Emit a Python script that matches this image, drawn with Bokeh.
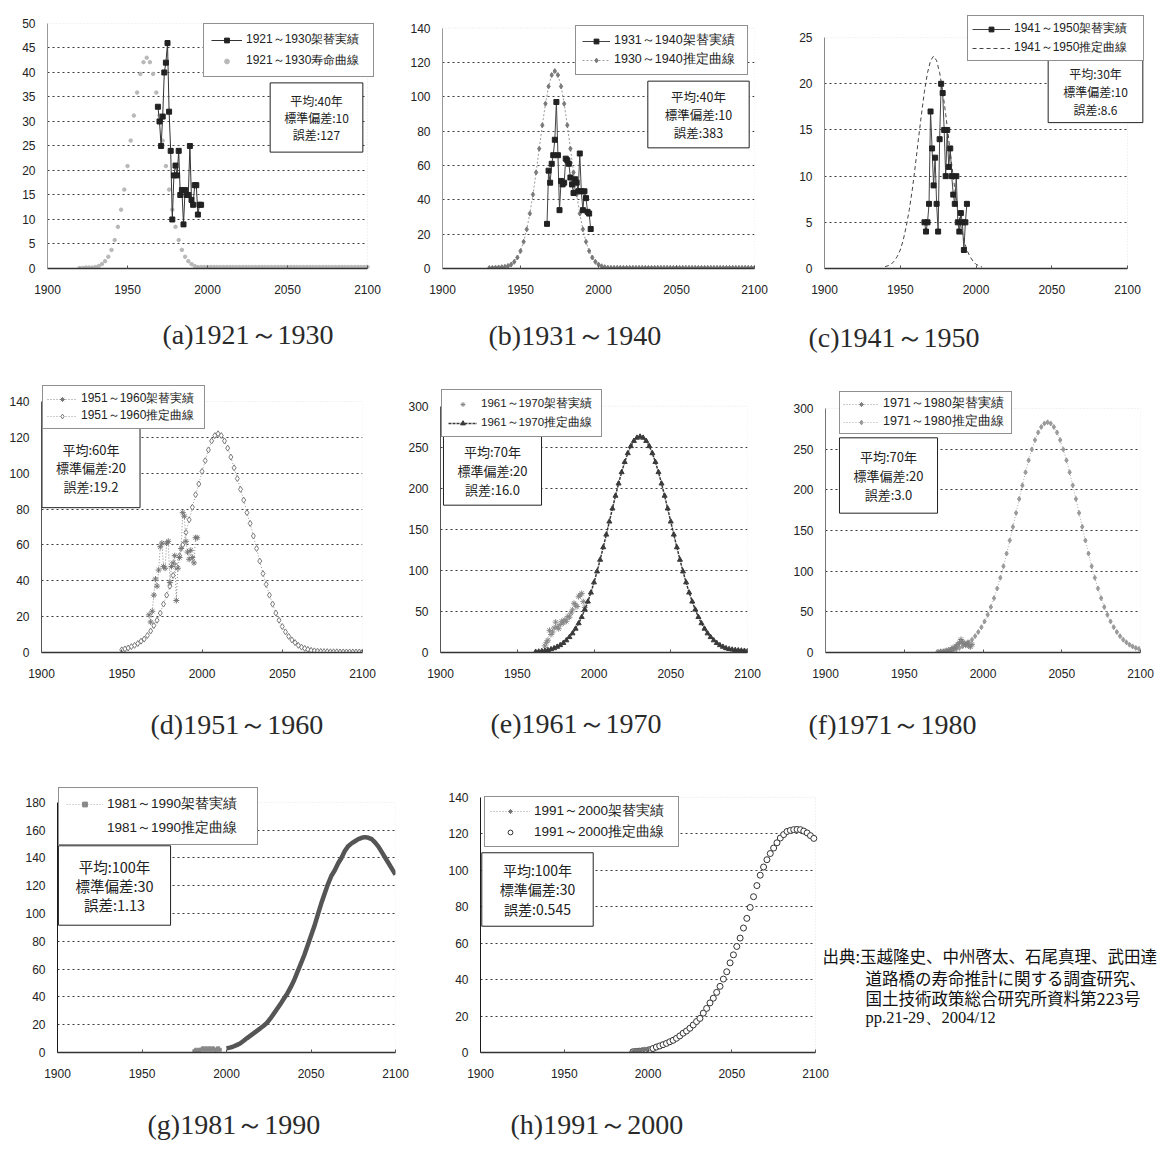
from bokeh.plotting import figure
from bokeh.models import Range1d, FixedTicker, Legend, LegendItem, Label, Title, BoxAnnotation
from bokeh.layouts import row, column
from bokeh.embed import file_html
from bokeh.resources import INLINE

X_TICKS = [1900, 1950, 2000, 2050, 2100]

# ---------------- (a) 1921-1930 ----------------
A_LABELS = ["1921～1930架替実績", "1921～1930寿命曲線"]
A_INFO = "平均:40年\n標準偏差:10\n誤差:127"
A_CAPTION = "(a)1921～1930"
A_YTICKS = [0, 5, 10, 15, 20, 25, 30, 35, 40, 45, 50]
A_ACT_START = 1969
A_ACT = [33, 30, 25, 31, 40, 42, 46, 32, 24, 10, 19, 21, 19, 24, 15, 16, 9, 16,
         15, 15, 25, 14, 13, 17, 17, 11, 13, 13]
A_CURVE_START = 1920
A_CURVE = [0.1, 0.1, 0.2, 0.2, 0.2, 0.3, 0.5, 0.9, 1.5, 2.4, 3.8, 5.8, 8.5,
           12.0, 16.1, 20.9, 26.1, 31.2, 35.9, 39.7, 42.1, 43.0, 42.1, 39.7, 35.9, 31.2,
           26.1, 20.9, 16.1, 12.0, 8.5, 5.8, 3.8, 2.4, 1.5, 0.9, 0.5, 0.3, 0.3,
           0.3, 0.3, 0.3, 0.3, 0.3, 0.3, 0.3, 0.3, 0.3, 0.3, 0.3, 0.3, 0.3,
           0.3, 0.3, 0.3, 0.3, 0.3, 0.3, 0.3, 0.3, 0.3, 0.3, 0.3, 0.3, 0.3,
           0.3, 0.3, 0.3, 0.3, 0.3, 0.3, 0.3, 0.3, 0.3, 0.3, 0.3, 0.3, 0.3,
           0.3, 0.3, 0.3, 0.3, 0.3, 0.3, 0.3, 0.3, 0.3, 0.3, 0.3, 0.3, 0.3]

# ---------------- (b) 1931-1940 ----------------
B_LABELS = ["1931～1940架替実績", "1930～1940推定曲線"]
B_INFO = "平均:40年\n標準偏差:10\n誤差:383"
B_CAPTION = "(b)1931～1940"
B_YTICKS = [0, 20, 40, 60, 80, 100, 120, 140]
B_ACT_START = 1967
B_ACT = [26, 57, 50, 61, 66, 75, 97, 66, 34, 51, 49, 50, 64, 63, 61, 53, 49, 44,
         52, 50, 45, 67, 45, 34, 45, 41, 33, 32, 23]
B_CURVE_START = 1930
B_CURVE = [0.3, 0.4, 0.5, 0.6, 0.8, 1.0, 1.5, 2.3, 3.9, 6.4, 10.2, 15.6, 22.8,
           32.0, 43.1, 56.0, 69.8, 83.5, 96.0, 106.1, 112.7, 115.0, 112.7, 106.1, 96.0, 83.5,
           69.8, 56.0, 43.1, 32.0, 22.8, 15.6, 10.2, 6.4, 3.9, 2.3, 1.3, 0.8, 0.5,
           0.4, 0.4, 0.4, 0.4, 0.4, 0.4, 0.4, 0.4, 0.4, 0.4, 0.4, 0.4, 0.4,
           0.4, 0.4, 0.4, 0.4, 0.4, 0.4, 0.4, 0.4, 0.4, 0.4, 0.4, 0.4, 0.4,
           0.4, 0.4, 0.4, 0.4, 0.4, 0.4, 0.4, 0.4, 0.4, 0.4, 0.4, 0.4, 0.4,
           0.4, 0.4, 0.4, 0.4, 0.4, 0.4, 0.4, 0.4]

# ---------------- (c) 1941-1950 ----------------
C_LABELS = ["1941～1950架替実績", "1941～1950推定曲線"]
C_INFO = "平均:30年\n標準偏差:10\n誤差:8.6"
C_CAPTION = "(c)1941～1950"
C_YTICKS = [0, 5, 10, 15, 20, 25]
C_ACT_START = 1966
C_ACT = [5, 4, 5, 7, 17, 13, 9, 12, 7, 4, 14, 20, 19, 15, 10, 15, 11, 13, 10, 8,
         7, 10, 5, 4, 6, 5, 2, 5, 7]
C_CURVE_START = 1940
C_CURVE = [0.2, 0.3, 0.45, 0.8, 1.3, 2.0, 3.1, 4.6, 6.4, 8.6, 11.2, 14.0, 16.7,
           19.2, 21.2, 22.5, 23.0, 22.5, 21.2, 19.2, 16.7, 14.0, 11.2, 8.6, 6.4,
           4.6, 3.1, 2.0, 1.3, 0.8, 0.45, 0.3, 0.15]

# ---------------- (d) 1951-1960 ----------------
D_LABELS = ["1951～1960架替実績", "1951～1960推定曲線"]
D_INFO = "平均:60年\n標準偏差:20\n誤差:19.2"
D_CAPTION = "(d)1951～1960"
D_YTICKS = [0, 20, 40, 60, 80, 100, 120, 140]
D_ACT_START = 1967
D_ACT = [21, 17, 23, 32, 41, 37, 46, 59, 61, 48, 47, 61, 62, 39, 48, 50, 54, 29,
         47, 53, 58, 78, 76, 62, 56, 52, 57, 53, 50, 64, 64]
D_CURVE_START = 1950
D_CURVE = [1.5, 2, 2.5, 3.3, 4,
           5, 6.3, 7.5, 9.5, 12,
           15, 18, 22, 27, 32,
           37, 43, 48, 54, 60,
           67, 74, 81, 88, 94,
           101, 107, 113, 118, 121,
           122, 121, 118, 114, 109,
           103, 97, 91, 85, 78,
           72, 65, 58, 51, 44,
           38, 32, 27, 22, 18,
           14.5, 11.5, 9, 7, 5.5,
           4, 3, 2.3, 1.7, 1.2,
           0.9, 0.7, 0.6, 0.5, 0.5,
           0.4, 0.4, 0.4, 0.3, 0.3,
           0.3, 0.3, 0.3, 0.3, 0.3,
           0.3]

# ---------------- (e) 1961-1970 ----------------
E_LABELS = ["1961～1970架替実績", "1961～1970推定曲線"]
E_INFO = "平均:70年\n標準偏差:20\n誤差:16.0"
E_CAPTION = "(e)1961～1970"
E_YTICKS = [0, 50, 100, 150, 200, 250, 300]
E_ACT_START = 1968
E_ACT = [8, 12, 15, 27, 22, 25, 30, 37, 31, 29, 34, 38, 36, 40, 38, 44, 43, 48,
         52, 60, 58, 56, 68, 70, 72, 62, 55]
E_CURVE_START = 1962
E_CURVE = [0.8, 1.1, 1.6, 2.2, 2.9,
           3.9, 5.2, 6.9, 8.9, 11.5,
           14.8, 18.7, 23.3, 29.0, 35.6,
           43.2, 52.2, 62.0, 73.0, 85.4,
           98.7, 113.0, 128.2, 143.6, 159.5,
           175.4, 191.0, 205.9, 219.7, 232.1,
           242.8, 251.4, 257.8, 261.7, 263.0,
           261.7, 257.8, 251.4, 242.8, 232.1,
           219.7, 205.9, 191.0, 175.4, 159.5,
           143.6, 128.2, 113.0, 98.7, 85.4,
           73.0, 62.0, 52.2, 43.2, 35.6,
           29.0, 23.3, 18.7, 14.8, 11.5,
           8.9, 6.9, 5.2, 4.2, 3.5,
           3.0, 2.6, 2.3, 2.0, 1.8]

# ---------------- (f) 1971-1980 ----------------
F_LABELS = ["1971～1980架替実績", "1971～1980推定曲線"]
F_INFO = "平均:70年\n標準偏差:20\n誤差:3.0"
F_CAPTION = "(f)1971～1980"
F_YTICKS = [0, 50, 100, 150, 200, 250, 300]
F_ACT_START = 1972
F_ACT = [0, 1, 0, 1, 2, 1, 3, 2, 4, 6, 5, 8, 10, 12, 16, 13, 11, 9, 12, 8, 7, 10]
F_CURVE_START = 1971
F_CURVE = [0.6, 0.9, 1.2, 1.7, 2.3,
           3.1, 4.2, 5.6, 7.4, 9.6,
           12.5, 15.8, 20.1, 25.2, 31.1,
           38.2, 46.4, 56.0, 66.8, 78.7,
           91.9, 106.1, 121.7, 137.8, 154.5,
           171.6, 188.8, 205.5, 221.6, 236.3,
           249.7, 261.2, 270.5, 277.3, 281.6,
           283.0, 281.6, 277.3, 270.5, 261.2,
           249.7, 236.3, 221.6, 205.5, 188.8,
           171.6, 154.5, 137.8, 121.7, 106.1,
           91.9, 78.7, 66.8, 56.0, 46.4,
           38.2, 31.1, 25.2, 20.1, 15.8,
           12.5, 9.6, 7.4, 5.6, 4.5]

# ---------------- (g) 1981-1990 ----------------
G_LABELS = ["1981～1990架替実績", "1981～1990推定曲線"]
G_INFO = "平均:100年\n標準偏差:30\n誤差:1.13"
G_CAPTION = "(g)1981～1990"
G_YTICKS = [0, 20, 40, 60, 80, 100, 120, 140, 160, 180]
G_ACT_START = 1981
G_ACT = [1, 2, 1, 2, 2, 3, 2, 3, 2, 3, 2, 3, 2, 2, 3, 2]
G_CURVE_START = 2000
G_CURVE = [3, 3.5, 4.3, 5.3, 6.5,
           8.3, 10.2, 12, 13.8, 15.6,
           17.4, 19.3, 21.4, 24.5, 28,
           31.5, 35, 38.8, 42.5, 47,
           52, 58, 64, 70, 77,
           84, 91, 99, 107, 114,
           121, 127, 131, 136, 140,
           145, 148.5, 150.5, 152, 153.5,
           154.5, 155, 154.5, 153.5, 151,
           148, 144, 140, 136, 132,
           128]

# ---------------- (h) 1991-2000 ----------------
H_LABELS = ["1991～2000架替実績", "1991～2000推定曲線"]
H_INFO = "平均:100年\n標準偏差:30\n誤差:0.545"
H_CAPTION = "(h)1991～2000"
H_YTICKS = [0, 20, 40, 60, 80, 100, 120, 140]
H_ACT_START = 1991
H_ACT = [0.5, 1, 0.8, 1.2, 1, 1.5, 1.3, 1.8, 1.6, 2]
H_CURVE_START = 1991
H_CURVE = [0.4, 0.6, 0.7, 0.9, 1.0,
           1.5, 2.2, 3.0, 3.6, 4.3,
           5.0, 5.9, 6.7, 7.8, 9.1,
           10.6, 11.8, 13.3, 15.1, 17.0,
           18.7, 21.6, 24.2, 27.2, 29.8,
           33, 36.3, 40.3, 44.3, 49.2,
           53.6, 58.2, 62.8, 68.3, 73.6,
           79.6, 85.5, 91.6, 97.3, 101.8,
           105.8, 109.2, 112.2, 115.1, 117.7,
           119.6, 121.3, 121.9, 122.3, 122.4,
           122.3, 121.5, 120.5, 119, 117.5]

SOURCE_LINES = ["出典:玉越隆史、中州啓太、石尾真理、武田達",
                "道路橋の寿命推計に関する調査研究、",
                "国土技術政策総合研究所資料第223号",
                "pp.21-29、2004/12"]

CJK = "Noto Sans CJK JP"
CJK_EM = 1.448  # line box of Noto Sans CJK in em
LEG_FONT = "Liberation Sans"
LEG_SHIFT = 4   # legend anchor correction (px)


def yrs(start, vals, step=1):
    return [start + step * i for i in range(len(vals))]


def base(w, h, bl, br, bt, bb, ymax, yticks, ext_top, ext_right, yaxis_color, cap_gap):
    # plot-area size (1900..2100, 0..ymax); the frame may extend beyond it for boxes
    pw = w - bl - br
    ph = h - bt - bb
    x_hi = 2100 + 200.0 * ext_right / pw
    y_hi = ymax * (ph + ext_top) / ph
    p = figure(width=w, height=h, x_range=Range1d(1900, x_hi), y_range=Range1d(0, y_hi),
               output_backend="svg", toolbar_location=None, tools="",
               min_border_left=bl, min_border_right=br - ext_right,
               min_border_top=bt - ext_top, min_border_bottom=bb)
    p.title_location = None
    p.background_fill_color = "white"
    p.border_fill_color = "white"
    p.outline_line_color = None
    p.add_layout(BoxAnnotation(left=1900, right=2100, bottom=0, top=ymax, fill_color=None,
                               line_color="#a8a8a8", line_dash="1 2", line_width=1,
                               level="underlay"))
    p.xaxis.ticker = FixedTicker(ticks=X_TICKS)
    p.yaxis.ticker = FixedTicker(ticks=yticks)
    p.xaxis.bounds = (1900, 2100)
    p.yaxis.bounds = (0, ymax)
    p.xgrid.visible = False
    p.ygrid.ticker = FixedTicker(ticks=yticks[1:-1])
    p.ygrid.cross_bounds = (1900, 2100)
    p.ygrid.grid_line_color = "#3a3a3a"
    p.ygrid.grid_line_dash = "2 3"
    p.ygrid.grid_line_width = 1
    for ax in (p.xaxis[0], p.yaxis[0]):
        ax.major_label_text_font = "Liberation Sans"
        ax.major_label_text_font_size = "12px"
        ax.major_label_text_color = "#222222"
        ax.minor_tick_line_color = None
    p.xaxis.axis_line_color = "#333333"
    p.xaxis.axis_line_width = 1.3
    p.xaxis.major_tick_in = 3
    p.xaxis.major_tick_out = 0
    p.xaxis.major_tick_line_color = "#555555"
    p.xaxis.major_label_standoff = 16
    # blank spacer between the tick labels and the caption below
    p.xaxis.axis_label = " "
    p.xaxis.axis_label_text_font_size = "1px"
    p.xaxis.axis_label_standoff = int(cap_gap)
    p.yaxis.axis_line_color = yaxis_color
    p.yaxis.major_tick_line_color = None
    p.yaxis.major_label_standoff = 6
    return p


def add_legend(p, items, lx, ly, fs, pad, sp, gw, lw):
    leg = Legend(items=items, location=(lx, ly - LEG_SHIFT), orientation="vertical",
                 border_line_color="#222222", border_line_width=1,
                 background_fill_color="white", background_fill_alpha=1.0,
                 label_text_font=LEG_FONT, label_text_font_size=f"{fs}px",
                 label_text_color="#222222",
                 glyph_width=int(gw), glyph_height=12, label_height=12,
                 label_width=int(lw), spacing=int(sp), padding=int(pad), margin=0,
                 label_standoff=4)
    p.add_layout(leg)


def add_info(p, text, cx, cy, fs, spacing, px, py):
    p.add_layout(Label(x=cx, y=cy, x_units="screen", y_units="screen", text=text,
                       text_align="center", text_baseline="middle", text_font=CJK,
                       text_font_size=f"{fs}px", text_line_height=spacing / (fs * CJK_EM),
                       text_color="#222222",
                       border_line_color="#222222", border_line_width=1,
                       background_fill_color="white", background_fill_alpha=1.0,
                       padding=dict(x=px, y=py)))


def add_caption(p, text, offset):
    p.add_layout(Title(text=text, align="left", offset=offset, standoff=0,
                       text_font="Liberation Serif", text_font_size="28px",
                       text_font_style="normal", text_color="#2a2a2a"), "below")


# ---- (a)
pa = base(390, 381, 47, 23, 22, 113, 50, A_YTICKS, 15, 8, "#9a9a9a", 16)
ca = pa.scatter(yrs(A_CURVE_START, A_CURVE, 2), A_CURVE, marker="circle", size=3.5,
                fill_color="#b8b8b8", line_color="#b8b8b8")
la = pa.line(yrs(A_ACT_START, A_ACT), A_ACT, line_color="#333333", line_width=1)
sa = pa.scatter(yrs(A_ACT_START, A_ACT), A_ACT, marker="square", size=5,
                fill_color="#222222", line_color="#222222")
add_legend(pa, [LegendItem(label=A_LABELS[0], renderers=[la, sa]),
                LegendItem(label=A_LABELS[1], renderers=[ca])], 156, 195, 12, 7, 4, 31, 120)
add_info(pa, A_INFO, 269, 151, 12, 17.5, 14, 9)
add_caption(pa, A_CAPTION, 115)

# ---- (b)
pb = base(390, 381, 52, 26, 28, 109, 140, B_YTICKS, 20, 0, "#9a9a9a", 17)
lcb = pb.line(yrs(B_CURVE_START, B_CURVE, 2), B_CURVE, line_color="#9a9a9a", line_width=1,
              line_dash="2 2")
cb = pb.scatter(yrs(B_CURVE_START, B_CURVE, 2), B_CURVE, marker="diamond", size=5,
                fill_color="#7a7a7a", line_color="#7a7a7a")
lb = pb.line(yrs(B_ACT_START, B_ACT), B_ACT, line_color="#444444", line_width=1)
sb = pb.scatter(yrs(B_ACT_START, B_ACT), B_ACT, marker="square", size=5,
                fill_color="#222222", line_color="#222222")
add_legend(pb, [LegendItem(label=B_LABELS[0], renderers=[lb, sb]),
                LegendItem(label=B_LABELS[1], renderers=[lcb, cb])], 133, 197, 12.5, 6, 2, 28, 127)
add_info(pb, B_INFO, 256, 154, 12.5, 17, 17, 6)
add_caption(pb, B_CAPTION, 46)

# ---- (c)
pc = base(381, 381, 44, 34, 35, 108, 25, C_YTICKS, 30, 18, "#8a8a8a", 19)
lcc = pc.line(yrs(C_CURVE_START, C_CURVE, 2), C_CURVE, line_color="#444444", line_width=1,
              line_dash="4 3")
lc = pc.line(yrs(C_ACT_START, C_ACT), C_ACT, line_color="#444444", line_width=1)
sc = pc.scatter(yrs(C_ACT_START, C_ACT), C_ACT, marker="square", size=5,
                fill_color="#222222", line_color="#222222")
add_legend(pc, [LegendItem(label=C_LABELS[0], renderers=[lc, sc]),
                LegendItem(label=C_LABELS[1], renderers=[lcc])], 143, 211, 12, 4, 2, 38, 125)
add_info(pc, C_INFO, 271, 177, 12, 18, 15, 5)
add_caption(pc, C_CAPTION, -16)

# ---- (d)
pd_ = base(390, 379, 41, 28, 20, 108, 140, D_YTICKS, 20, 0, "#555555", 22)
lcd = pd_.line(yrs(D_CURVE_START, D_CURVE, 2), D_CURVE, line_color="#9a9a9a", line_width=1,
               line_dash="1 2")
cd = pd_.scatter(yrs(D_CURVE_START, D_CURVE, 2), D_CURVE, marker="diamond", size=6,
                 fill_color="white", line_color="#7a7a7a")
ld = pd_.line(yrs(D_ACT_START, D_ACT), D_ACT, line_color="#8a8a8a", line_width=1, line_dash="1 2")
sd = pd_.scatter(yrs(D_ACT_START, D_ACT), D_ACT, marker="asterisk", size=6,
                 line_color="#777777")
add_legend(pd_, [LegendItem(label=D_LABELS[0], renderers=[ld, sd]),
                 LegendItem(label=D_LABELS[1], renderers=[lcd, cd])], 1, 227, 12, 4, 0, 30, 119)
add_info(pd_, D_INFO, 49.5, 184.5, 13, 18, 14, 12)
add_caption(pd_, D_CAPTION, 109)

# ---- (e)
pe = base(390, 379, 50, 33, 25, 106, 300, E_YTICKS, 25, 0, "#555555", 21)
se = pe.scatter(yrs(E_ACT_START, E_ACT), E_ACT, marker="asterisk", size=6, line_color="#888888")
lce = pe.line(yrs(E_CURVE_START, E_CURVE, 2), E_CURVE, line_color="#3a3a3a", line_width=1.5,
              line_dash="3 1")
ce = pe.scatter(yrs(E_CURVE_START, E_CURVE, 2), E_CURVE, marker="triangle", size=5,
                fill_color="#3a3a3a", line_color="#3a3a3a")
add_legend(pe, [LegendItem(label=E_LABELS[0], renderers=[se]),
                LegendItem(label=E_LABELS[1], renderers=[lce, ce])], 1, 219, 11.5, 6, 4, 29, 114)
add_info(pe, E_INFO, 52, 182, 13, 19, 14, 6)
add_caption(pe, E_CAPTION, 50)

# ---- (f)
pf = base(381, 379, 45, 21, 27, 108, 300, F_YTICKS, 27, 0, "#777777", 22)
lcf = pf.line(yrs(F_CURVE_START, F_CURVE, 2), F_CURVE, line_color="#aaaaaa", line_width=1,
              line_dash="1 2")
cf = pf.scatter(yrs(F_CURVE_START, F_CURVE, 2), F_CURVE, marker="diamond", size=5,
                fill_color="#9a9a9a", line_color="#9a9a9a")
lf = pf.line(yrs(F_ACT_START, F_ACT), F_ACT, line_color="#999999", line_width=1, line_dash="1 2")
sf = pf.scatter(yrs(F_ACT_START, F_ACT), F_ACT, marker="asterisk", size=6, line_color="#808080")
add_legend(pf, [LegendItem(label=F_LABELS[0], renderers=[lf, sf]),
                LegendItem(label=F_LABELS[1], renderers=[lcf, cf])], 14, 222, 12.5, 3, 1, 36, 125)
add_info(pf, F_INFO, 63, 177, 13, 19, 14, 9)
add_caption(pf, F_CAPTION, -17)

# ---- (g)
pg = base(420, 398, 57, 25, 42, 105, 180, G_YTICKS, 35, 0, "#1a1a1a", 22)
lcg = pg.line(yrs(G_CURVE_START, G_CURVE, 2), G_CURVE, line_color="#555555", line_width=4.5)
leg_g = pg.line([], [], line_color="#dddddd", line_width=1)
lg = pg.line(yrs(G_ACT_START, G_ACT), G_ACT, line_color="#aaaaaa", line_width=1, line_dash="1 2")
sg = pg.scatter(yrs(G_ACT_START, G_ACT), G_ACT, marker="square", size=3,
                fill_color="#888888", line_color="#888888")
add_legend(pg, [LegendItem(label=G_LABELS[0], renderers=[lg, sg]),
                LegendItem(label=G_LABELS[1], renderers=[leg_g])], 1, 211, 13.5, 7, 6, 37, 143)
add_info(pg, G_INFO, 57, 167, 14.5, 19.2, 17, 10)
add_caption(pg, G_CAPTION, 90)

# ---- (h)
ph = base(741, 398, 60, 346, 36, 106, 140, H_YTICKS, 30, 346, "#1a1a1a", 22)
ch = ph.scatter(yrs(H_CURVE_START, H_CURVE, 2), H_CURVE, marker="circle", size=6,
                fill_color="white", line_color="#333333", line_width=1)
lh_ = ph.line(yrs(H_ACT_START, H_ACT), H_ACT, line_color="#999999", line_width=1, line_dash="1 2")
sh = ph.scatter(yrs(H_ACT_START, H_ACT), H_ACT, marker="asterisk", size=5, line_color="#777777")
add_legend(ph, [LegendItem(label=H_LABELS[0], renderers=[lh_, sh]),
                LegendItem(label=H_LABELS[1], renderers=[ch])], 4, 209, 13.5, 5, 3, 40, 139)
add_info(ph, H_INFO, 57, 163, 14, 20, 18, 7)
add_caption(ph, H_CAPTION, 30)

src_pos = [(342, 97), (385, 75), (385, 55), (385, 35)]
for i, (txt, (sx, sy)) in enumerate(zip(SOURCE_LINES, src_pos)):
    ph.add_layout(Label(x=sx, y=sy, x_units="screen", y_units="screen", text=txt,
                        text_align="left", text_baseline="middle",
                        text_font=("Liberation Serif" if i == 3 else CJK),
                        text_font_size="16.5px", text_color="#111111"))

layout = column(row(pa, pb, pc), row(pd_, pe, pf), row(pg, ph))
open("out.html", "w").write(file_html(layout, INLINE))
